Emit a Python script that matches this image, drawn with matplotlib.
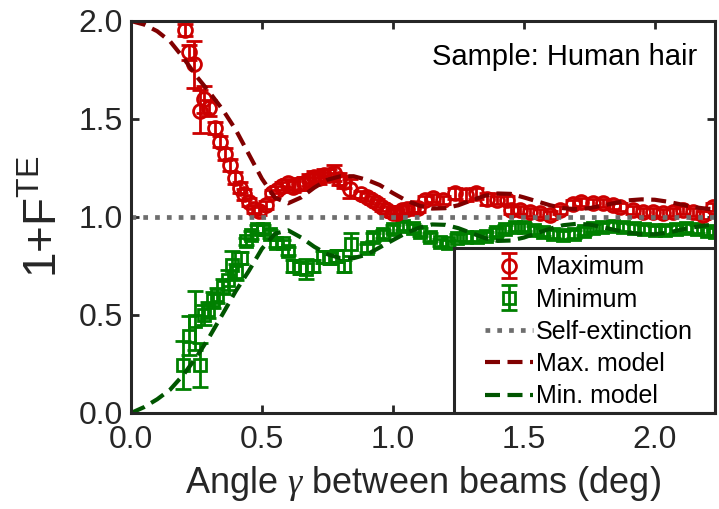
import matplotlib
matplotlib.use("Agg")
import matplotlib.pyplot as plt
from matplotlib.patches import Rectangle

plt.rcParams['font.family'] = ['Liberation Sans', 'DejaVu Sans']
plt.rcParams['mathtext.fontset'] = 'custom'
plt.rcParams['mathtext.rm'] = 'Liberation Sans'
plt.rcParams['mathtext.it'] = 'Liberation Serif:italic'

# Measured maxima (red circles)
max_angle = [0.205, 0.220, 0.240, 0.262, 0.280, 0.298, 0.320, 0.338, 0.358, 0.378,
             0.398, 0.415, 0.432, 0.450, 0.468, 0.490, 0.515, 0.540, 0.558, 0.578,
             0.598, 0.620, 0.640, 0.660, 0.680, 0.698, 0.718, 0.736, 0.755, 0.775,
             0.795, 0.812, 0.835, 0.880, 0.900, 0.920, 0.940, 0.960, 0.978, 1.000,
             1.015, 1.035, 1.055, 1.075, 1.095, 1.122, 1.154, 1.192, 1.237, 1.281,
             1.319, 1.358, 1.396, 1.434, 1.450, 1.485, 1.523, 1.561, 1.599, 1.637,
             1.688, 1.720, 1.765, 1.803, 1.841, 1.866, 1.917, 1.955, 1.994, 2.032,
             2.070, 2.108, 2.146, 2.184, 2.223]
max_value = [1.955, 1.840, 1.780, 1.540, 1.600, 1.555, 1.455, 1.385, 1.320, 1.265,
             1.200, 1.150, 1.115, 1.075, 1.040, 1.030, 1.060, 1.120, 1.140, 1.160,
             1.175, 1.155, 1.170, 1.172, 1.190, 1.205, 1.200, 1.215, 1.215, 1.225,
             1.195, 1.180, 1.145, 1.115, 1.100, 1.085, 1.070, 1.050, 1.035, 1.020,
             1.020, 1.035, 1.040, 1.045, 1.045, 1.085, 1.095, 1.087, 1.120, 1.112,
             1.120, 1.090, 1.087, 1.085, 1.036, 1.036, 1.027, 1.019, 1.012, 1.036,
             1.068, 1.078, 1.070, 1.070, 1.061, 1.053, 1.036, 1.027, 1.027, 1.020,
             1.027, 1.036, 1.027, 1.012, 1.053]
max_err = [0.03, 0.04, 0.12, 0.11, 0.07, 0.04, 0.03, 0.03, 0.03, 0.03,
           0.03, 0.03, 0.03, 0.02, 0.02, 0.02, 0.02, 0.02, 0.02, 0.02,
           0.02, 0.03, 0.03, 0.03, 0.03, 0.03, 0.03, 0.03, 0.03, 0.04,
           0.03, 0.03, 0.05, 0.02, 0.02, 0.02, 0.02, 0.02, 0.02, 0.02,
           0.02, 0.02, 0.02, 0.02, 0.02, 0.02, 0.02, 0.02, 0.03, 0.03,
           0.03, 0.03, 0.02, 0.02, 0.02, 0.02, 0.02, 0.02, 0.02, 0.02,
           0.02, 0.02, 0.02, 0.02, 0.02, 0.02, 0.02, 0.02, 0.02, 0.02,
           0.02, 0.02, 0.02, 0.02, 0.02]

# Measured minima (green squares)
min_angle = [0.200, 0.220, 0.245, 0.262, 0.280, 0.295, 0.312, 0.330, 0.350, 0.370,
             0.385, 0.400, 0.420, 0.440, 0.460, 0.480, 0.505, 0.530, 0.555, 0.580,
             0.600, 0.620, 0.645, 0.670, 0.695, 0.735, 0.760, 0.785, 0.815, 0.840,
             0.900, 0.925, 0.962, 1.000, 1.040, 1.078, 1.103, 1.140, 1.180, 1.210,
             1.245, 1.280, 1.320, 1.355, 1.395, 1.430, 1.465, 1.500, 1.540, 1.575,
             1.610, 1.650, 1.690, 1.730, 1.765, 1.800, 1.840, 1.880, 1.920, 1.960,
             2.000, 2.040, 2.080, 2.120, 2.160, 2.200, 2.230]
min_value = [0.245, 0.395, 0.470, 0.245, 0.500, 0.525, 0.575, 0.600, 0.645, 0.680,
             0.755, 0.720, 0.790, 0.875, 0.910, 0.940, 0.940, 0.915, 0.865, 0.865,
             0.825, 0.750, 0.740, 0.735, 0.750, 0.795, 0.790, 0.800, 0.750, 0.860,
             0.840, 0.900, 0.915, 0.940, 0.955, 0.945, 0.925, 0.900, 0.870, 0.865,
             0.895, 0.900, 0.900, 0.905, 0.925, 0.940, 0.950, 0.950, 0.935, 0.925,
             0.915, 0.910, 0.915, 0.930, 0.945, 0.950, 0.955, 0.950, 0.945, 0.940,
             0.935, 0.935, 0.940, 0.945, 0.940, 0.930, 0.925]
min_err = [0.12, 0.10, 0.15, 0.11, 0.05, 0.04, 0.04, 0.04, 0.04, 0.05,
           0.07, 0.04, 0.03, 0.02, 0.02, 0.02, 0.02, 0.02, 0.02, 0.02,
           0.02, 0.03, 0.03, 0.05, 0.03, 0.03, 0.03, 0.03, 0.03, 0.06,
           0.02, 0.02, 0.02, 0.02, 0.02, 0.02, 0.02, 0.02, 0.02, 0.02,
           0.02, 0.02, 0.02, 0.02, 0.02, 0.02, 0.02, 0.02, 0.02, 0.02,
           0.02, 0.02, 0.02, 0.02, 0.02, 0.02, 0.02, 0.02, 0.02, 0.02,
           0.02, 0.02, 0.02, 0.02, 0.02, 0.02, 0.02]

# Model curves
model_angle = [0.00, 0.05, 0.10, 0.15, 0.20, 0.25, 0.30, 0.35, 0.40, 0.45,
               0.50, 0.55, 0.60, 0.65, 0.70, 0.75, 0.80, 0.85, 0.90, 0.95,
               1.00, 1.05, 1.10, 1.15, 1.20, 1.25, 1.30, 1.35, 1.40, 1.45,
               1.50, 1.55, 1.60, 1.65, 1.70, 1.75, 1.80, 1.85, 1.90, 1.95,
               2.00, 2.05, 2.10, 2.15, 2.20, 2.25]
max_model = [2.000, 1.982, 1.948, 1.895, 1.812, 1.718, 1.636, 1.548, 1.445, 1.320,
             1.195, 1.098, 1.070, 1.100, 1.150, 1.190, 1.208, 1.208, 1.190, 1.163,
             1.122, 1.085, 1.058, 1.043, 1.045, 1.060, 1.085, 1.108, 1.120, 1.118,
             1.100, 1.080, 1.060, 1.045, 1.040, 1.045, 1.058, 1.072, 1.085, 1.090,
             1.088, 1.078, 1.064, 1.050, 1.042, 1.040]
min_model = [0.000, 0.030, 0.070, 0.120, 0.195, 0.285, 0.390, 0.505, 0.622, 0.725,
             0.838, 0.915, 0.932, 0.895, 0.848, 0.810, 0.790, 0.790, 0.808, 0.845,
             0.882, 0.918, 0.945, 0.962, 0.960, 0.943, 0.918, 0.893, 0.878, 0.880,
             0.895, 0.918, 0.940, 0.958, 0.965, 0.962, 0.948, 0.933, 0.920, 0.912,
             0.912, 0.920, 0.935, 0.948, 0.958, 0.962]

self_ext = 1.0

x_ticks = [0.0, 0.5, 1.0, 1.5, 2.0]
y_ticks = [0.0, 0.5, 1.0, 1.5, 2.0]

dark = '#262626'
red = '#CC0000'
green = '#008000'

fig = plt.figure(figsize=(7.19, 5.09), dpi=100)
ax = fig.add_axes([131 / 719, 96 / 509, 584 / 719, 392 / 509])

h_max = ax.errorbar(max_angle, max_value, yerr=max_err, fmt='o', color=red,
                    mfc='none', mec=red, ms=10, mew=2, elinewidth=2,
                    capsize=6, capthick=2, zorder=1.5, label='Maximum')
h_min = ax.errorbar(min_angle, min_value, yerr=min_err, fmt='s', color=green,
                    mfc='none', mec=green, ms=8.5, mew=2, elinewidth=2,
                    capsize=6, capthick=2, zorder=1.4, label='Minimum')
h_self = ax.axhline(self_ext, color='#6e6e6e', lw=3.4, ls=(0, (1, 1.5)),
                    dash_capstyle='butt', zorder=1.6, label='Self-extinction')
h_mm, = ax.plot(model_angle, max_model, color='#800000', lw=3,
                ls=(0, (3.6, 1.8)), zorder=1.7, label='Max. model')
h_nm, = ax.plot(model_angle, min_model, color='#005500', lw=3,
                ls=(0, (3.6, 1.8)), zorder=1.7, label='Min. model')

ax.set_xlim(0, 2.23)
ax.set_ylim(0, 2.0)
ax.set_xticks(x_ticks)
ax.set_yticks(y_ticks)
ax.set_xticklabels([f'{t:.1f}' for t in x_ticks])
ax.set_yticklabels([f'{t:.1f}' for t in y_ticks])
ax.tick_params(direction='in', top=True, right=True, length=6, width=2,
               color=dark, labelcolor=dark, labelsize=23)
ax.tick_params(axis='x', pad=9)
ax.tick_params(axis='y', pad=6)
for s in ax.spines.values():
    s.set_linewidth(2.2)
    s.set_color(dark)

ax.set_xlabel(r'Angle $\gamma$ between beams (deg)', fontsize=26, color=dark,
              labelpad=6)
ax.set_ylabel(r'$\mathregular{1{+}F^{TE}}$', fontsize=33, color=dark, labelpad=8)

ax.text(0.969, 0.888, 'Sample: Human hair', transform=ax.transAxes,
        ha='right', va='baseline', fontsize=21, color='black')

# legend box in the lower right corner
box = Rectangle((0.553, 0.0), 0.447, 0.421, transform=ax.transAxes,
                facecolor='white', edgecolor=dark, lw=2.2, zorder=2.2)
ax.add_patch(box)
leg = ax.legend(handles=[h_max, h_min, h_self, h_mm, h_nm], loc='center left',
                bbox_to_anchor=(0.585, 0.207), frameon=False, fontsize=18,
                borderpad=0, handlelength=1.9, handletextpad=0.12,
                labelspacing=0.33)
leg.set_zorder(2.3)

fig.savefig('out.png', dpi=100)
